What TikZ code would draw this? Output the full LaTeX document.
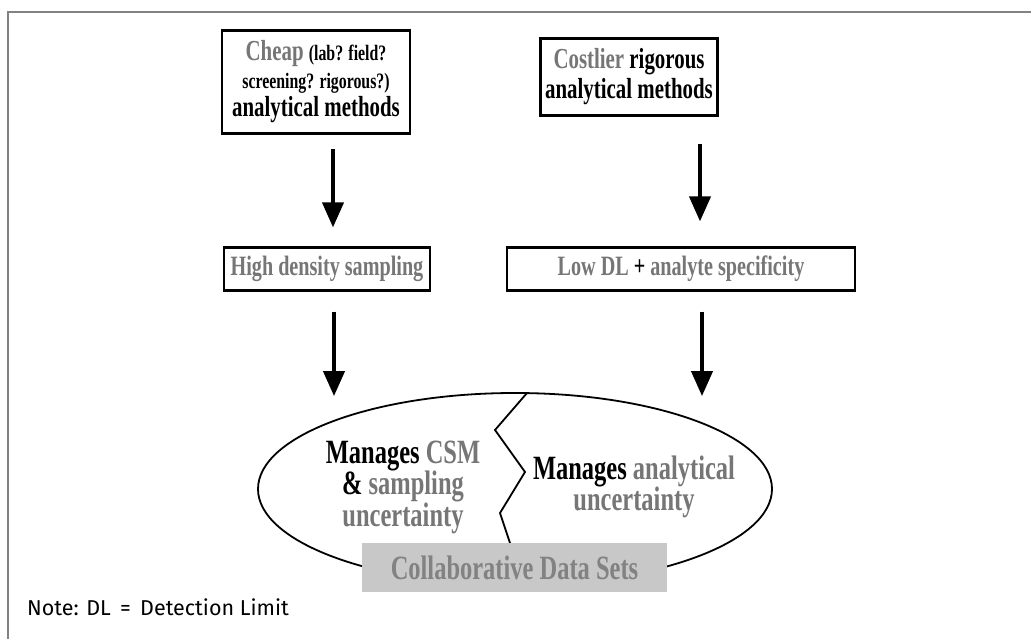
\documentclass[tikz,border=0pt]{standalone}
\usepackage{fontspec}
\setmainfont{Liberation Serif}[FakeStretch=0.72]
\newfontfamily\notefont{Fira Sans}
\usetikzlibrary{shapes.geometric, arrows.meta, positioning, calc}
\definecolor{faded}{RGB}{118, 118, 118}
\definecolor{panel}{RGB}{200, 200, 200}
\definecolor{paneltext}{RGB}{130, 130, 130}
\definecolor{frame}{RGB}{130, 130, 130}
\newcommand{\fd}[1]{\textcolor{faded}{#1}}
\newcommand{\smalltxt}[1]{{\fontsize{22}{28}\selectfont #1}}

\begin{document}
\begin{tikzpicture}[
            x=1pt, y=-1pt,
            methodbox/.style={rectangle, draw=black, line width=2.6pt, fill=white, align=center, inner sep=1pt,
                              font=\bfseries\fontsize{29}{29}\selectfont},
            flow/.style={line width=4pt, -{Triangle[width=21pt, length=25pt]}},
            lbl/.style={align=center, font=\bfseries\fontsize{34}{31.5}\selectfont}
        ]
            \useasboundingbox (0,0) rectangle (1031,639);
            \draw[frame, line width=2pt] (8,639) -- (8,12) -- (1031,12);

            % METHODS
            \node[methodbox, minimum width=188, minimum height=103,
                  font=\bfseries\fontsize{29}{28}\selectfont] (cheap) at (316,82)
                {\fd{Cheap} \smalltxt{(lab? field?}\\ \smalltxt{screening? rigorous?)}\\ analytical methods};
            \node[methodbox, minimum width=177, minimum height=77,
                  font=\bfseries\fontsize{29}{30}\selectfont] (costly) at (629,77)
                {\fd{Costlier} rigorous\\ analytical methods};

            % RESULTS
            \node[methodbox, line width=2.2pt, minimum width=206, minimum height=43,
                  font=\bfseries\fontsize{28}{28}\selectfont] (highdens) at (327,269)
                {\fd{High density sampling}};
            \node[methodbox, line width=2.2pt, minimum width=348, minimum height=43,
                  font=\bfseries\fontsize{28}{28}\selectfont] (lowdl) at (681,269)
                {\fd{Low DL} + \fd{analyte specificity}};

            % UNCERTAINTY
            \node[ellipse, draw=black, line width=1.8pt, minimum width=514, minimum height=192,
                  inner sep=0pt] (manage) at (515,489) {};
            \draw[line width=1.8pt] ($(manage.center)+(12,-96)$) -- ($(manage.center)+(-20,-59)$)
                -- ($(manage.center)+(10,-17)$) -- ($(manage.center)+(-15,24)$)
                -- ($(manage.center)+(-5,54)$);
            \node[lbl] (csm) at (403,487) {Manages \fd{CSM}\\ \& \fd{sampling}\\ \fd{uncertainty}};
            \node[lbl] (anal) at (634,487) {Manages \fd{analytical}\\ \fd{uncertainty}};
            \node[fill=panel, minimum width=305, minimum height=49, inner sep=0pt,
                  text=paneltext, font=\bfseries\fontsize{34}{34}\selectfont] (collab) at (514.5,567.5)
                {Collaborative Data Sets};

            % NOTE
            \node[anchor=west, inner sep=0pt, font=\notefont\fontsize{21.5}{24}\selectfont] (note) at (27,607)
                {Note: DL\, =\, Detection Limit};

            % Arrows
            \draw[flow, shorten <=14pt, shorten >=19pt] ([xshift=17pt]cheap.south) -- ([xshift=6pt]highdens.north);
            \draw[flow, shorten <=27pt, shorten >=25pt] ([xshift=71pt]costly.south) -- ([xshift=19pt]lowdl.north);
            \draw[flow, shorten <=20pt, shorten >=-4pt] ([xshift=7pt]highdens.south) -- ([xshift=-181pt]manage.north);
            \draw[flow, shorten <=20pt, shorten >=-4pt] ([xshift=21pt]lowdl.south) -- ([xshift=187pt]manage.north);
        \end{tikzpicture}
\end{document}
